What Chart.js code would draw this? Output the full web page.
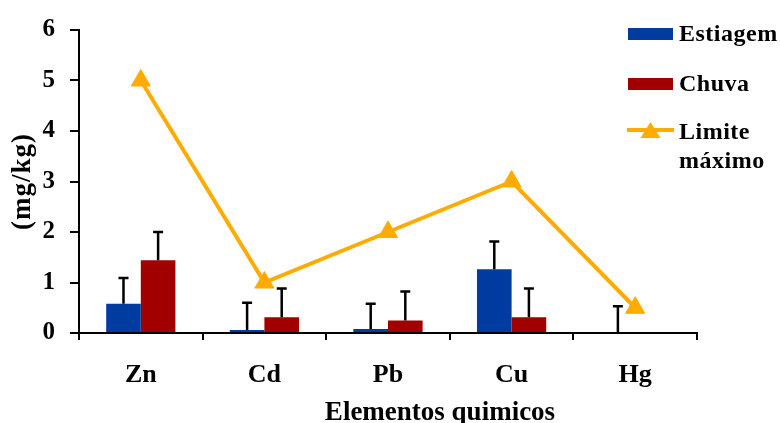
<!DOCTYPE html>
<html>
<head>
<meta charset="utf-8">
<script src="https://cdn.jsdelivr.net/npm/chart.js@4"></script>
<style>
  html, body { margin: 0; padding: 0; background: #fff; }
  #wrap { width: 780px; height: 423px; }
</style>
</head>
<body>
<div id="wrap"><canvas id="chart" width="780" height="423"></canvas></div>
<script>
// Concentrações médias por elemento (mg/kg)
const categories = ['Zn', 'Cd', 'Pb', 'Cu', 'Hg'];
const estiagem = [0.58, 0.06, 0.08, 1.26, 0];
const chuva = [1.44, 0.31, 0.25, 0.31, null];
// Desvio padrão (barra de erro superior)
const estiagemErr = [0.51, 0.54, 0.50, 0.55, 0.53];
const chuvaErr = [0.56, 0.57, 0.57, 0.57, null];
// Limite máximo permitido
const limite = [5, 1, 2, 3, 0.5];
const yTicks = [0, 1, 2, 3, 4, 5, 6];

const BLUE = '#003c9f';
const RED = '#a20000';
const ORANGE = '#ffab00';
const SERIF = '"Liberation Serif", "Times New Roman", serif';

const errorsByDataset = { 0: estiagemErr, 1: chuvaErr };

// Barras de erro (só a parte superior)
const errorBars = {
  id: 'errorBars',
  afterDatasetDraw(chart, args) {
    const errs = errorsByDataset[args.index];
    if (!errs) return;
    const ctx = chart.ctx;
    const y = chart.scales.y;
    const meta = args.meta;
    const data = chart.data.datasets[args.index].data;
    ctx.save();
    ctx.strokeStyle = '#000';
    ctx.lineWidth = 2.5;
    meta.data.forEach((bar, i) => {
      if (data[i] === null || errs[i] === null) return;
      const x = bar.x;
      const y0 = y.getPixelForValue(data[i]);
      const y1 = y.getPixelForValue(data[i] + errs[i]);
      ctx.beginPath();
      ctx.moveTo(x, y0);
      ctx.lineTo(x, y1);
      ctx.moveTo(x - 5, y1);
      ctx.lineTo(x + 5, y1);
      ctx.stroke();
    });
    ctx.restore();
  }
};

// Títulos dos eixos e legenda
const decorations = {
  id: 'decorations',
  afterDraw(chart) {
    const ctx = chart.ctx;
    const area = chart.chartArea;
    ctx.save();
    ctx.fillStyle = '#000';

    // título do eixo X
    ctx.font = 'bold 27px ' + SERIF;
    ctx.textAlign = 'center';
    ctx.textBaseline = 'alphabetic';
    ctx.fillText('Elementos quimicos', 440, 420);

    // título do eixo Y
    ctx.save();
    ctx.translate(23, (area.top + area.bottom) / 2);
    ctx.rotate(-Math.PI / 2);
    ctx.font = 'bold 27px ' + SERIF;
    ctx.letterSpacing = '1px';
    ctx.textAlign = 'center';
    ctx.textBaseline = 'middle';
    ctx.fillText('(mg/kg)', 0, 0);
    ctx.restore();

    // legenda
    ctx.font = 'bold 24px ' + SERIF;
    ctx.letterSpacing = '0.5px';
    ctx.textAlign = 'left';
    ctx.textBaseline = 'middle';
    const sx = 628, sw = 45, tx = 679;
    ctx.fillStyle = BLUE;
    ctx.fillRect(sx, 28, sw, 12);
    ctx.fillStyle = RED;
    ctx.fillRect(sx, 78, sw, 12);
    ctx.strokeStyle = ORANGE;
    ctx.lineWidth = 4;
    ctx.beginPath();
    ctx.moveTo(sx - 1, 130);
    ctx.lineTo(sx + sw + 1, 130);
    ctx.stroke();
    ctx.fillStyle = ORANGE;
    ctx.beginPath();
    ctx.moveTo(sx + sw / 2, 122);
    ctx.lineTo(sx + sw / 2 + 10, 138);
    ctx.lineTo(sx + sw / 2 - 10, 138);
    ctx.closePath();
    ctx.fill();

    ctx.fillStyle = '#000';
    ctx.fillText('Estiagem', tx, 35);
    ctx.fillText('Chuva', tx, 85);
    ctx.fillText('Limite', tx, 133);
    ctx.fillText('máximo', tx, 162);
    ctx.restore();
  }
};

new Chart(document.getElementById('chart'), {
  type: 'bar',
  data: {
    labels: categories,
    datasets: [
      { label: 'Estiagem', data: estiagem, backgroundColor: BLUE, order: 1,
        categoryPercentage: 0.56, barPercentage: 1.0 },
      { label: 'Chuva', data: chuva, backgroundColor: RED, order: 1,
        categoryPercentage: 0.56, barPercentage: 1.0 },
      { type: 'line', label: 'Limite máximo', data: limite, order: 0,
        borderColor: ORANGE, borderWidth: 4, tension: 0,
        pointStyle: 'triangle', pointRadius: 11,
        pointBackgroundColor: ORANGE, pointBorderColor: ORANGE, pointBorderWidth: 1 }
    ]
  },
  options: {
    responsive: false,
    animation: false,
    layout: { padding: { left: 0, right: 83, top: 26, bottom: 0 } },
    plugins: { legend: { display: false }, tooltip: { enabled: false } },
    scales: {
      x: {
        offset: true,
        grid: { offset: true, drawOnChartArea: false, drawTicks: true, tickLength: 7,
                color: '#000', lineWidth: 2 },
        border: { display: true, color: '#000', width: 2 },
        ticks: { color: '#000', padding: 20, font: { family: SERIF, size: 26, weight: 'bold' } },
        afterFit(scale) { scale.height = 90; }
      },
      y: {
        min: 0, max: 6,
        afterBuildTicks(scale) { scale.ticks = yTicks.map(v => ({ value: v })); },
        grid: { drawOnChartArea: false, drawTicks: true, tickLength: 9,
                color: '#000', lineWidth: 2 },
        border: { display: true, color: '#000', width: 2 },
        ticks: { color: '#000', padding: 15, font: { family: SERIF, size: 25, weight: 'bold' } },
        afterFit(scale) { scale.width = 79; }
      }
    }
  },
  plugins: [errorBars, decorations]
});
</script>
</body>
</html>
